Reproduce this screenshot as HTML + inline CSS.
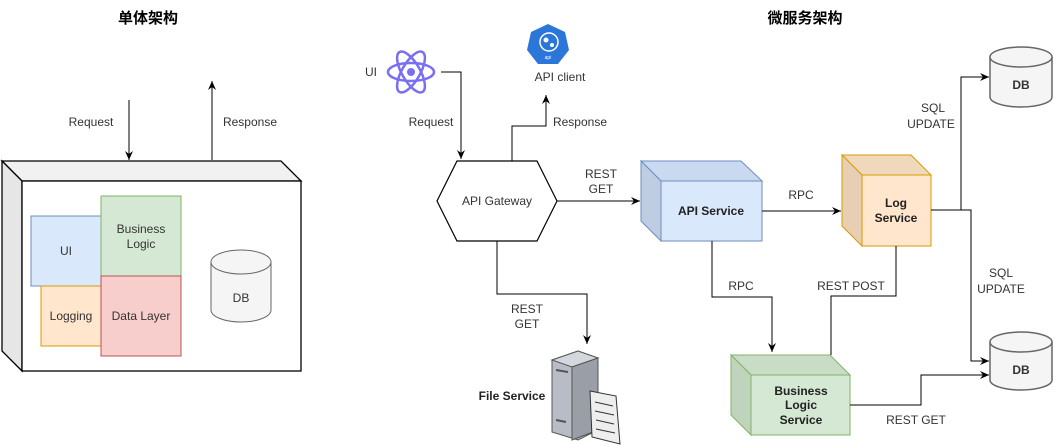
<!DOCTYPE html>
<html><head><meta charset="utf-8"><style>
html,body{margin:0;padding:0;background:#fff;}
svg{display:block;font-family:"Liberation Sans","Noto Sans CJK SC",sans-serif;}
</style></head><body>
<svg width="1054" height="445" viewBox="0 0 1054 445" xmlns="http://www.w3.org/2000/svg">
<defs>
<marker id="ar" markerWidth="10" markerHeight="10" refX="9" refY="5" orient="auto" markerUnits="userSpaceOnUse">
<path d="M0,1 L9,5 L0,9 L3,5 Z" fill="#000"/></marker>
</defs>
<g font-size="12" fill="#333" text-anchor="middle">
<text x="148" y="23" font-size="15" font-weight="bold" fill="#000">单体架构</text>
<text x="805" y="23" font-size="15" font-weight="bold" fill="#000">微服务架构</text>

<line x1="129" y1="100" x2="129" y2="160" stroke="#000" marker-end="url(#ar)"/>
<line x1="212" y1="160" x2="212" y2="81" stroke="#000" marker-end="url(#ar)"/>
<text x="91" y="126">Request</text>
<text x="250" y="126">Response</text>
<path d="M2,161 L281,161 L301,181 L22,181 Z" fill="#f1f1f1" stroke="#000" stroke-width="1.3"/>
<path d="M2,161 L22,181 L22,371 L2,351 Z" fill="#e6e6e6" stroke="#000" stroke-width="1.3"/>
<rect x="22" y="181" width="279" height="190" fill="#fff" stroke="#000" stroke-width="1.3"/>
<rect x="31" y="216" width="70" height="70" fill="#dae8fc" stroke="#6c8ebf"/>
<text x="66" y="255">UI</text>
<rect x="41" y="286" width="60" height="60" fill="#ffe6cc" stroke="#d79b00"/>
<text x="71" y="320">Logging</text>
<rect x="101" y="196" width="80" height="80" fill="#d5e8d4" stroke="#82b366"/>
<text x="141" y="233">Business</text><text x="141" y="248">Logic</text>
<rect x="101" y="276" width="80" height="80" fill="#f8cecc" stroke="#b85450"/>
<text x="141" y="320">Data Layer</text>
<path d="M211,262 L211,310 A30,12 0 0 0 271,310 L271,262" fill="#f5f5f5" stroke="#666"/>
<ellipse cx="241" cy="262" rx="30" ry="12" fill="#f5f5f5" stroke="#666"/>
<text x="241" y="302">DB</text>

<g transform="translate(411,72)" fill="none" stroke="#7a6ff0" stroke-width="2.5">
<ellipse rx="23" ry="9"/>
<ellipse rx="23" ry="9" transform="rotate(60)"/>
<ellipse rx="23" ry="9" transform="rotate(-60)"/>
<circle r="4" fill="#7a6ff0" stroke="none"/>
</g>
<text x="371" y="76">UI</text>
<polygon points="548,24 565,32 569,50 558,64 538,64 527,50 531,32" fill="#2b76d9"/>
<circle cx="549" cy="42" r="9" fill="none" stroke="#fff" stroke-width="1.5"/>
<circle cx="546" cy="40" r="2.5" fill="#fff"/>
<circle cx="552" cy="45" r="2" fill="#fff"/>
<text x="548" y="59" font-size="5" fill="#fff">api</text>
<text x="560" y="81">API client</text>

<path d="M441,72 H461 V159" fill="none" stroke="#000" marker-end="url(#ar)"/>
<path d="M512,161 V126 H546 V95" fill="none" stroke="#000" marker-end="url(#ar)"/>
<text x="431" y="126">Request</text>
<text x="580" y="126">Response</text>

<polygon points="437,201 457,161 537,161 557,201 537,241 457,241" fill="#fff" stroke="#000" stroke-width="1.2"/>
<text x="497" y="205">API Gateway</text>
<line x1="557" y1="201" x2="640" y2="201" stroke="#000" marker-end="url(#ar)"/>
<text x="601" y="178">REST</text><text x="601" y="193">GET</text>
<path d="M497,241 V294 H587 V344" fill="none" stroke="#000" marker-end="url(#ar)"/>
<text x="527" y="313">REST</text><text x="527" y="328">GET</text>

<path d="M552,360 L578,351 L598,358 L598,430 L578,440 L552,432 Z" fill="#b7bcc6" stroke="#555"/>
<path d="M552,360 L578,351 L598,358 L572,367 Z" fill="#d4d7dd" stroke="#555"/>
<path d="M572,367 L598,358 L598,430 L572,440 Z" fill="#9a9ea6" stroke="#555"/>
<line x1="556" y1="370" x2="568" y2="372" stroke="#555" stroke-width="2"/>
<line x1="556" y1="420" x2="566" y2="422" stroke="#555" stroke-width="2"/>
<path d="M590,391 L616,396 L620,444 L592,437 Z" fill="#eee" stroke="#333"/>
<g stroke="#333"><line x1="595" y1="402" x2="613" y2="406"/><line x1="595" y1="411" x2="614" y2="415"/><line x1="596" y1="420" x2="614" y2="424"/><line x1="596" y1="429" x2="615" y2="433"/></g>
<text x="512" y="400" font-weight="bold" fill="#222">File Service</text>

<path d="M641,161 L741,161 L762,181 L661,181 Z" fill="#c9d9ef" stroke="#6c8ebf"/>
<path d="M641,161 L661,181 L661,241 L641,221 Z" fill="#bfcde2" stroke="#6c8ebf"/>
<rect x="661" y="181" width="101" height="60" fill="#dae8fc" stroke="#6c8ebf"/>
<text x="711" y="215" font-weight="bold" fill="#222">API Service</text>
<line x1="762" y1="211" x2="841" y2="211" stroke="#000" marker-end="url(#ar)"/>
<text x="801" y="199">RPC</text>

<path d="M842,155 L911,155 L931,175 L862,175 Z" fill="#f0d8bc" stroke="#d79b00"/>
<path d="M842,155 L862,175 L862,246 L842,226 Z" fill="#e8cfb4" stroke="#d79b00"/>
<rect x="862" y="175" width="69" height="71" fill="#ffe6cc" stroke="#d79b00"/>
<text x="896" y="207" font-weight="bold" fill="#222">Log</text><text x="896" y="222" font-weight="bold" fill="#222">Service</text>

<path d="M731,355 L830,355 L850,375 L751,375 Z" fill="#c9dcc6" stroke="#82b366"/>
<path d="M731,355 L751,375 L751,435 L731,415 Z" fill="#c0d3bd" stroke="#82b366"/>
<rect x="751" y="375" width="99" height="60" fill="#d5e8d4" stroke="#82b366"/>
<text x="801" y="395" font-weight="bold" fill="#222">Business</text>
<text x="801" y="409" font-weight="bold" fill="#222">Logic</text>
<text x="801" y="424" font-weight="bold" fill="#222">Service</text>

<path d="M712,241 V297 H772 V352" fill="none" stroke="#000" marker-end="url(#ar)"/>
<text x="741" y="290">RPC</text>
<path d="M896,246 V296 H831 V355" fill="none" stroke="#000"/>
<text x="851" y="290">REST POST</text>
<path d="M850,405 H921 V375 H989" fill="none" stroke="#000" marker-end="url(#ar)"/>
<text x="916" y="424">REST GET</text>

<path d="M931,210 H961 V77 H989" fill="none" stroke="#000" marker-end="url(#ar)"/>
<path d="M961,210 H971 V361 H989" fill="none" stroke="#000" marker-end="url(#ar)"/>
<text x="933" y="112">SQL</text><text x="931" y="128">UPDATE</text>
<text x="1001" y="277">SQL</text><text x="1001" y="293">UPDATE</text>

<path d="M990,57 L990,97 A31,10 0 0 0 1052,97 L1052,57" fill="#f5f5f5" stroke="#666" stroke-width="1.5"/>
<ellipse cx="1021" cy="57" rx="31" ry="10" fill="#f5f5f5" stroke="#666" stroke-width="1.5"/>
<text x="1021" y="89" font-weight="bold" fill="#333">DB</text>
<path d="M990,342 L990,380 A31,10 0 0 0 1052,380 L1052,342" fill="#f5f5f5" stroke="#666" stroke-width="1.5"/>
<ellipse cx="1021" cy="342" rx="31" ry="10" fill="#f5f5f5" stroke="#666" stroke-width="1.5"/>
<text x="1021" y="374" font-weight="bold" fill="#333">DB</text>
</g>
</svg>
</body></html>
